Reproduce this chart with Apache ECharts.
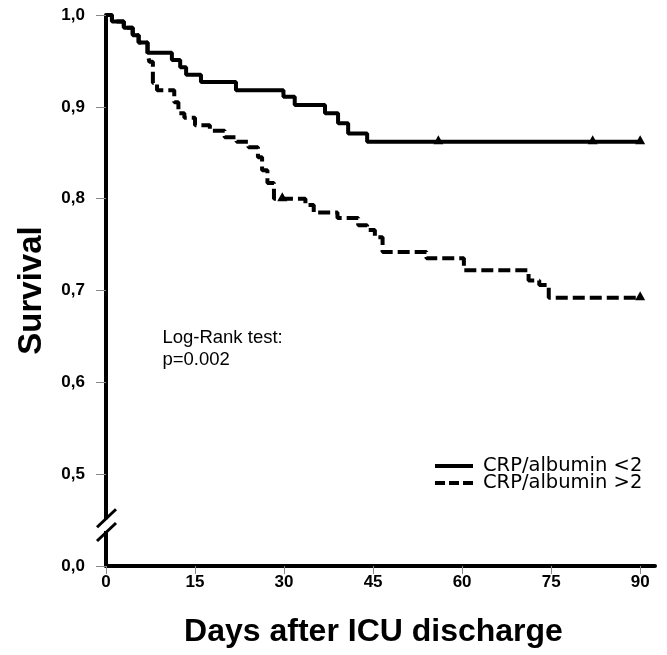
<!DOCTYPE html>
<html>
<head>
<meta charset="utf-8">
<script src="https://cdn.jsdelivr.net/npm/echarts@6/dist/echarts.min.js"></script>
<style>
html,body{margin:0;padding:0;background:#fff;}
#c{width:667px;height:655px;}
</style>
</head>
<body>
<div id="c"></div>
<script>
// ---- data ----
var lowDays  = [0, 1, 3, 4.5, 5.5, 7, 11.1, 12.5, 13.5, 16, 21.9, 29.9, 31.8, 36.9, 39.1, 40.8, 44, 90];
var lowSurv  = [1.0, 0.993, 0.986, 0.978, 0.970, 0.959, 0.951, 0.943, 0.935, 0.927, 0.918, 0.911, 0.902, 0.893, 0.882, 0.871, 0.862, 0.862];
var lowCensorDays = [56, 82, 90];
var lowCensorSurv = [0.862, 0.862, 0.862];

var highDays = [0, 1, 3, 4.5, 5.5, 7, 7.3, 7.9, 8.6, 11.5, 12.2, 13.2, 15, 17.5, 20, 22, 24, 25.6, 26.3, 27.2, 28.3, 33.6, 35, 39, 42.5, 44, 45.3, 46.6, 54, 60.3, 71.2, 73, 74.6, 90];
var highSurv = [1.0, 0.993, 0.986, 0.978, 0.970, 0.959, 0.949, 0.926, 0.918, 0.905, 0.893, 0.888, 0.880, 0.874, 0.867, 0.862, 0.856, 0.845, 0.831, 0.817, 0.800, 0.793, 0.785, 0.779, 0.771, 0.766, 0.758, 0.742, 0.735, 0.722, 0.711, 0.706, 0.692, 0.692];
var highCensorDays = [29.7, 90];
var highCensorSurv = [0.800, 0.692];

var xTicks = [0, 15, 30, 45, 60, 75, 90];
var seriesNames = ['CRP/albumin <2', 'CRP/albumin >2'];
var yBreakLabel = '0,0';   // label shown at the broken lower end of the axis
var testText = ['Log-Rank test:', 'p=0.002'];

function zip(a, b) { return a.map(function (v, i) { return [v, b[i]]; }); }

var FONT = 'Liberation Sans, Arial, sans-serif';
var chart = echarts.init(document.getElementById('c'), null, {renderer: 'canvas'});

var option = {
  backgroundColor: '#ffffff',
  animation: false,
  grid: {left: 106, right: 12, top: 15, bottom: 89, containLabel: false, outerBoundsMode: 'none'},
  xAxis: {
    type: 'value', min: 0, max: 92.5,
    name: 'Days after ICU discharge', nameLocation: 'middle', nameGap: 50,
    nameTextStyle: {fontFamily: FONT, fontWeight: 'bold', fontSize: 32, color: '#000', padding: [0, 14, 0, 0]},
    axisLine: {show: true, lineStyle: {color: '#000', width: 4}},
    axisTick: {show: true, length: 8, lineStyle: {color: '#888', width: 1}, customValues: xTicks},
    axisLabel: {fontFamily: FONT, fontWeight: 'bold', fontSize: 17, color: '#000', margin: 8, customValues: xTicks},
    splitLine: {show: false}
  },
  yAxis: {
    type: 'value', min: 0.4, max: 1.0, interval: 0.1,
    name: 'Survival', nameLocation: 'middle', nameGap: 58, nameRotate: 90,
    nameTextStyle: {fontFamily: FONT, fontWeight: 'bold', fontSize: 33, color: '#000'},
    axisLine: {show: true, lineStyle: {color: '#000', width: 4}},
    axisTick: {show: true, length: 10, lineStyle: {color: '#888', width: 1}},
    axisLabel: {
      fontFamily: FONT, fontWeight: 'bold', fontSize: 17, color: '#000', margin: 21,
      formatter: function (v) {
        if (Math.abs(v - 0.4) < 1e-6) return yBreakLabel;
        return v.toFixed(1).replace('.', ',');
      }
    },
    splitLine: {show: false}
  },
  legend: {
    data: [
      {name: seriesNames[0], icon: 'path://M0,0 H38 V4 H0 Z'},
      {name: seriesNames[1], icon: 'path://M0,0 H10 V4 H0 Z M14,0 H24 V4 H14 Z M28,0 H38 V4 H28 Z'}
    ],
    orient: 'vertical', left: 430, top: 451,
    itemWidth: 38, itemHeight: 4, itemGap: -3,
    textStyle: {fontFamily: 'DejaVu Sans, sans-serif', fontSize: 19.5, color: '#000', padding: [0, 0, 0, 5]}
  },
  series: [
    {
      name: seriesNames[0], type: 'line', step: 'end', symbol: 'none',
      data: zip(lowDays, lowSurv),
      lineStyle: {color: '#000', width: 4, type: 'solid'},
      itemStyle: {color: '#000'}, z: 3
    },
    {
      name: seriesNames[1], type: 'line', step: 'end', symbol: 'none',
      data: zip(highDays, highSurv),
      lineStyle: {color: '#000', width: 4, type: [12, 5]},
      itemStyle: {color: '#000'}, z: 3
    },
    {
      name: 'censor1', type: 'scatter', symbol: 'triangle', symbolSize: [10, 9], symbolOffset: [0, -2],
      data: zip(lowCensorDays, lowCensorSurv), itemStyle: {color: '#000', opacity: 1}, z: 4
    },
    {
      name: 'censor2', type: 'scatter', symbol: 'triangle', symbolSize: [10, 9], symbolOffset: [0, -2],
      data: zip(highCensorDays, highCensorSurv), itemStyle: {color: '#000', opacity: 1}, z: 4
    }
  ]
};
chart.setOption(option);

// axis break marks and annotation, positioned through the axis scales
var pA = chart.convertToPixel({gridIndex: 0}, [0, 0.452]);
var pB = chart.convertToPixel({gridIndex: 0}, [0, 0.437]);
var pT = chart.convertToPixel({gridIndex: 0}, [9.5, 0.66]);
chart.setOption({
  graphic: [
    {type: 'rect', shape: {x: pA[0] - 4, y: pA[1] + 1, width: 8, height: pB[1] - pA[1] - 2}, style: {fill: '#fff'}, z: 100},
    {type: 'line', shape: {x1: pA[0] - 9, y1: pA[1] + 9, x2: pA[0] + 10, y2: pA[1] - 9}, style: {stroke: '#000', lineWidth: 3}, z: 101},
    {type: 'line', shape: {x1: pB[0] - 9, y1: pB[1] + 9, x2: pB[0] + 10, y2: pB[1] - 9}, style: {stroke: '#000', lineWidth: 3}, z: 101},
    {type: 'text', x: pT[0], y: pT[1], style: {text: testText.join('\n'), font: '18.5px ' + FONT, fill: '#000', lineHeight: 22}, z: 10}
  ]
});
</script>
</body>
</html>
